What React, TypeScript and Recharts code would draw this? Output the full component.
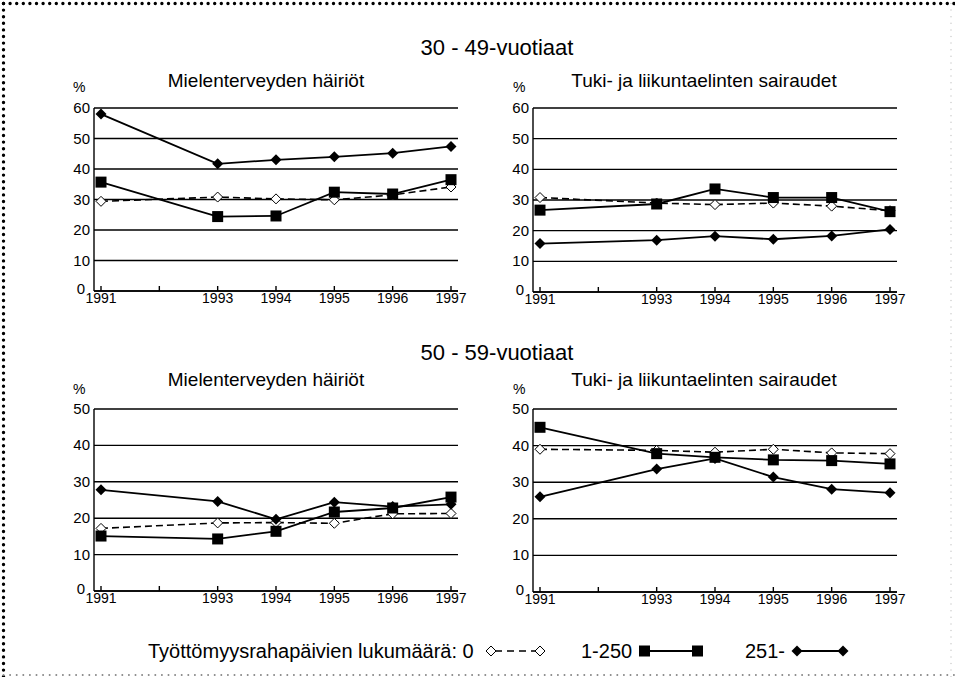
import { LineChart, Line, XAxis, YAxis, CartesianGrid } from "recharts";

const years = [1991, 1993, 1994, 1995, 1996, 1997];
const xTicks = [1991, 1992, 1993, 1994, 1995, 1996, 1997];

// 30 - 49-vuotiaat, mielenterveyden häiriöt
const youngMental0 = [29.4, 30.8, 30.2, 29.9, 31.5, 34.1];
const youngMental250 = [35.7, 24.4, 24.6, 32.4, 31.8, 36.5];
const youngMental251 = [58.0, 41.7, 43.0, 44.0, 45.2, 47.4];
// 30 - 49-vuotiaat, tuki- ja liikuntaelinten sairaudet
const youngMusc0 = [30.8, 29.0, 28.5, 29.0, 28.0, 26.5];
const youngMusc250 = [26.7, 28.7, 33.6, 30.8, 30.8, 26.2];
const youngMusc251 = [15.8, 16.9, 18.2, 17.2, 18.3, 20.4];
// 50 - 59-vuotiaat, mielenterveyden häiriöt
const oldMental0 = [17.2, 18.7, 18.8, 18.6, 21.2, 21.3];
const oldMental250 = [15.1, 14.3, 16.4, 21.7, 22.8, 25.8];
const oldMental251 = [27.8, 24.6, 19.7, 24.4, 23.2, 23.8];
// 50 - 59-vuotiaat, tuki- ja liikuntaelinten sairaudet
const oldMusc0 = [39.0, 38.7, 38.2, 39.0, 38.0, 37.8];
const oldMusc250 = [45.0, 37.8, 36.8, 36.1, 35.9, 35.0];
const oldMusc251 = [26.0, 33.6, 36.5, 31.4, 28.1, 27.1];

const ticks60 = [0, 10, 20, 30, 40, 50, 60];
const ticks50 = [0, 10, 20, 30, 40, 50];

const FONT = "'Liberation Sans', Arial, sans-serif";

// axis ticks
const XTick = ({ x, y, payload }: any) => (
  <text x={x} y={y} dy={11} textAnchor="middle" fontSize={14} fontFamily={FONT} fill="#000">
    {payload.value === 1992 ? "" : payload.value}
  </text>
);

// the zero label sits a bit left so it clears the first year label
const YTick = ({ x, y, payload }: any) => (
  <text
    x={payload.value === 0 ? x - 5 : x}
    y={y}
    dy={payload.value === 0 ? 3 : 5}
    textAnchor="end"
    fontSize={15}
    fontFamily={FONT}
    fill="#000"
  >
    {payload.value}
  </text>
);

// markers
const Square = (p: any) => {
  const { cx, cy, index } = p;
  if (cx == null || cy == null) return <g key={`s-${index}`} />;
  return <rect key={`s-${index}`} x={cx - 5.5} y={cy - 5.5} width={11} height={11} fill="#000" />;
};

const Diamond = (p: any) => {
  const { cx, cy, index } = p;
  if (cx == null || cy == null) return <g key={`d-${index}`} />;
  const r = 5.5;
  return (
    <polygon
      key={`d-${index}`}
      points={`${cx},${cy - r} ${cx + r},${cy} ${cx},${cy + r} ${cx - r},${cy}`}
      fill="#000"
    />
  );
};

const OpenDiamond = (p: any) => {
  const { cx, cy, index } = p;
  if (cx == null || cy == null) return <g key={`o-${index}`} />;
  const r = 5;
  return (
    <polygon
      key={`o-${index}`}
      points={`${cx},${cy - r} ${cx + r},${cy} ${cx},${cy + r} ${cx - r},${cy}`}
      fill="#fff"
      stroke="#000"
      strokeWidth={1}
    />
  );
};

function Panel({
  left,
  top,
  height,
  yMax,
  yTicks,
  s0,
  s1,
  s2,
}: {
  left: number;
  top: number;
  height: number;
  yMax: number;
  yTicks: number[];
  s0: number[];
  s1: number[];
  s2: number[];
}) {
  const data = years.map((y, i) => ({ year: y, a: s0[i], b: s1[i], c: s2[i] }));
  return (
    <div style={{ position: "absolute", left, top }}>
      <LineChart
        width={414}
        height={height}
        data={data}
        margin={{ top: 10, right: 10, left: 0, bottom: 0 }}
      >
        <CartesianGrid vertical={false} stroke="#000" strokeWidth={1.4} />
        <XAxis
          dataKey="year"
          type="number"
          domain={[1991, 1997]}
          ticks={xTicks}
          interval={0}
          padding={{ left: 7, right: 7 }}
          height={30}
          stroke="#000"
          strokeWidth={1.4}
          tickSize={-5}
          tickMargin={6}
          tick={<XTick />}
        />
        <YAxis
          domain={[0, yMax]}
          ticks={yTicks}
          width={40}
          stroke="#000"
          strokeWidth={1.4}
          tickLine={false}
          tickSize={0}
          tickMargin={4}
          interval={0}
          tick={<YTick />}
        />
        <YAxis
          yAxisId="r"
          orientation="right"
          domain={[0, yMax]}
          width={0}
          tick={false}
          tickLine={false}
          axisLine={{ stroke: "#000", strokeWidth: 1.4 }}
        />
        <Line
          dataKey="a"
          stroke="#000"
          strokeWidth={1.6}
          strokeDasharray="7 4"
          dot={OpenDiamond}
          activeDot={false}
          isAnimationActive={false}
        />
        <Line
          dataKey="b"
          stroke="#000"
          strokeWidth={1.8}
          dot={Square}
          activeDot={false}
          isAnimationActive={false}
        />
        <Line
          dataKey="c"
          stroke="#000"
          strokeWidth={1.8}
          dot={Diamond}
          activeDot={false}
          isAnimationActive={false}
        />
      </LineChart>
    </div>
  );
}

export default function App() {
  return (
    <div
      style={{
        position: "absolute",
        left: 0,
        top: 0,
        width: 955,
        height: 677,
        background: "#fff",
        overflow: "hidden",
        fontFamily: FONT,
      }}
    >
      <svg width={955} height={677} style={{ position: "absolute", left: 0, top: 0 }}>
        {/* dotted frame */}
        <line x1={3.5} y1={3.5} x2={955} y2={3.5} stroke="#000" strokeWidth={3.4} strokeLinecap="round" strokeDasharray="0 6.6" />
        <line x1={3.5} y1={3.5} x2={3.5} y2={677} stroke="#000" strokeWidth={3.4} strokeLinecap="round" strokeDasharray="0 6.6" />
        <line x1={3.5} y1={675} x2={955} y2={675} stroke="#888" strokeWidth={2} strokeLinecap="round" strokeDasharray="0 6.6" />
        <line x1={951} y1={3.5} x2={951} y2={677} stroke="#ccc" strokeWidth={1.5} strokeLinecap="round" strokeDasharray="0 6.6" />

        <g fontFamily={FONT} fill="#000">
          <text x={497} y={55} fontSize={22} textAnchor="middle">30 - 49-vuotiaat</text>
          <text x={497} y={360} fontSize={22} textAnchor="middle">50 - 59-vuotiaat</text>

          <text x={266} y={87} fontSize={19} textAnchor="middle">Mielenterveyden häiriöt</text>
          <text x={704} y={87} fontSize={19} textAnchor="middle">Tuki- ja liikuntaelinten sairaudet</text>
          <text x={266} y={386} fontSize={19} textAnchor="middle">Mielenterveyden häiriöt</text>
          <text x={704} y={386} fontSize={19} textAnchor="middle">Tuki- ja liikuntaelinten sairaudet</text>

          <text x={73} y={92} fontSize={14}>%</text>
          <text x={513} y={92} fontSize={14}>%</text>
          <text x={73} y={394} fontSize={14}>%</text>
          <text x={513} y={394} fontSize={14}>%</text>

          {/* legend */}
          <text x={148} y={658} fontSize={20}>Työttömyysrahapäivien lukumäärä: 0</text>
          <line x1={491} y1={651} x2={540} y2={651} stroke="#000" strokeWidth={1.5} strokeDasharray="7 5" strokeDashoffset={-4} />
          <polygon points="491,646 496,651 491,656 486,651" fill="#fff" stroke="#000" />
          <polygon points="540,646 545,651 540,656 535,651" fill="#fff" stroke="#000" />

          <text x={581} y={658} fontSize={20}>1-250</text>
          <line x1={644} y1={651} x2={698} y2={651} stroke="#000" strokeWidth={2} />
          <rect x={639} y={645.5} width={11} height={11} fill="#000" />
          <rect x={692} y={645.5} width={11} height={11} fill="#000" />

          <text x={745} y={658} fontSize={20}>251-</text>
          <line x1={797} y1={651} x2={843} y2={651} stroke="#000" strokeWidth={2} />
          <polygon points="797,645.5 802.5,651 797,656.5 791.5,651" fill="#000" />
          <polygon points="843,645.5 848.5,651 843,656.5 837.5,651" fill="#000" />
        </g>
      </svg>

      <Panel left={54} top={98} height={223} yMax={60} yTicks={ticks60} s0={youngMental0} s1={youngMental250} s2={youngMental251} />
      <Panel left={493} top={98} height={224} yMax={60} yTicks={ticks60} s0={youngMusc0} s1={youngMusc250} s2={youngMusc251} />
      <Panel left={54} top={399} height={222} yMax={50} yTicks={ticks50} s0={oldMental0} s1={oldMental250} s2={oldMental251} />
      <Panel left={493} top={399} height={223} yMax={50} yTicks={ticks50} s0={oldMusc0} s1={oldMusc250} s2={oldMusc251} />
    </div>
  );
}
